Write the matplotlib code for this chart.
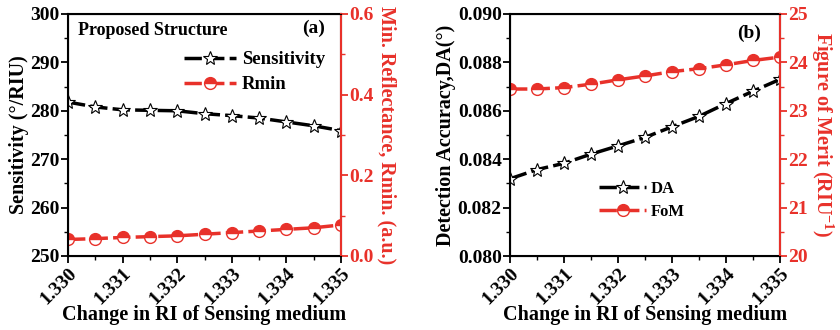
import numpy as np
import matplotlib.pyplot as plt
from matplotlib.ticker import MultipleLocator, FormatStrFormatter

plt.rcParams['font.family'] = ['Liberation Serif', 'DejaVu Serif']
plt.rcParams['font.weight'] = 'bold'
plt.rcParams['axes.labelweight'] = 'bold'
plt.rcParams['mathtext.fontset'] = 'custom'
plt.rcParams['mathtext.rm'] = 'Liberation Serif:bold'
plt.rcParams['mathtext.bf'] = 'Liberation Serif:bold'

ri = [1.3300, 1.3305, 1.3310, 1.3315, 1.3320, 1.3325, 1.3330, 1.3335, 1.3340, 1.3345, 1.3350]
sens = [281.8, 280.8, 280.2, 280.1, 280.0, 279.4, 279.0, 278.5, 277.7, 276.9, 275.9]
rmin = [0.041, 0.043, 0.046, 0.048, 0.050, 0.054, 0.058, 0.062, 0.066, 0.070, 0.077]
da = [0.08319, 0.08357, 0.08383, 0.08421, 0.08455, 0.08490, 0.08534, 0.08577, 0.08630, 0.08681, 0.08730]
fom = [23.45, 23.45, 23.48, 23.55, 23.64, 23.72, 23.81, 23.87, 23.95, 24.04, 24.11]
xticks = [1.330, 1.331, 1.332, 1.333, 1.334, 1.335]

red = '#e8312a'
tfs = 14   # tick labels
lfs = 14.5   # axis labels

fig = plt.figure(figsize=(8.4, 3.3), dpi=100)
axA = fig.add_axes([68/840, 1-256/330, 273/840, 242/330])
axB = fig.add_axes([510/840, 1-256/330, 270/840, 242/330])

def style(ax, ax2):
    ax.set_xlim(1.330, 1.335)
    ax.set_xticks(xticks)
    ax.set_xticklabels(['%.3f' % v for v in xticks], rotation=45, ha='right', rotation_mode='anchor')
    ax.xaxis.set_minor_locator(MultipleLocator(0.0005))
    ax.tick_params(axis='both', which='major', direction='out', length=5, width=1.3, labelsize=tfs)
    ax.tick_params(axis='both', which='minor', direction='out', length=3, width=1.0)
    ax.tick_params(axis='x', pad=1)
    ax.tick_params(axis='y', pad=1)
    for s in ax.spines.values():
        s.set_linewidth(1.5)
    ax2.spines['right'].set_color(red)
    ax2.spines['right'].set_linewidth(1.5)
    ax2.tick_params(axis='y', which='major', direction='out', length=5, width=1.3, colors=red,
                    labelsize=tfs, pad=1)
    ax2.tick_params(axis='y', which='minor', direction='out', length=3, width=1.0, colors=red)
    ax.set_xlabel('Change in RI of Sensing medium', fontsize=lfs, labelpad=-2)

# panel (a)
axA2 = axA.twinx()
l1, = axA.plot(ri, sens, color='black', lw=2.5, ls=(0, (5, 1.5)), marker='*', ms=10,
               mfc='white', mec='black', mew=0.8, label='Sensitivity')
l2, = axA2.plot(ri, rmin, color=red, lw=2.5, ls=(0, (5, 1.5)), marker='o', ms=8.5,
                fillstyle='top', mfc=red, mfcalt='white', mec=red, mew=1.0, label='Rmin')
axA.set_ylim(250, 300)
axA.yaxis.set_major_locator(MultipleLocator(10))
axA.yaxis.set_minor_locator(MultipleLocator(5))
axA2.set_ylim(0, 0.6)
axA2.yaxis.set_major_locator(MultipleLocator(0.2))
axA2.yaxis.set_minor_locator(MultipleLocator(0.1))
axA2.yaxis.set_major_formatter(FormatStrFormatter('%.1f'))
style(axA, axA2)
axA.set_ylabel('Sensitivity (°/RIU)', fontsize=lfs, labelpad=1)
axA2.set_ylabel('Min. Reflectance, Rmin. (a.u.)', fontsize=lfs, color=red, rotation=270, labelpad=16)
axA.legend([l1, l2], ['Sensitivity', 'Rmin'], loc='upper right', bbox_to_anchor=(0.99, 0.90),
           frameon=False, fontsize=13.5, handlelength=2.8, handletextpad=0.3, labelspacing=0.4,
           borderpad=0.2)
axA.text(0.035, 0.965, 'Proposed Structure', transform=axA.transAxes, fontsize=13, fontweight='bold', va='top')
axA.text(0.94, 0.975, '(a)', transform=axA.transAxes, fontsize=14, fontweight='bold', va='top', ha='right')

# panel (b)
axB2 = axB.twinx()
l3, = axB.plot(ri, da, color='black', lw=2.5, ls=(0, (5, 1.5)), marker='*', ms=10,
               mfc='white', mec='black', mew=0.8, label='DA')
l4, = axB2.plot(ri, fom, color=red, lw=2.5, ls=(0, (5, 1.5)), marker='o', ms=8.5,
                fillstyle='top', mfc=red, mfcalt='white', mec=red, mew=1.0, label='FoM')
axB.set_ylim(0.080, 0.090)
axB.yaxis.set_major_locator(MultipleLocator(0.002))
axB.yaxis.set_minor_locator(MultipleLocator(0.001))
axB.yaxis.set_major_formatter(FormatStrFormatter('%.3f'))
axB2.set_ylim(20, 25)
axB2.yaxis.set_major_locator(MultipleLocator(1))
axB2.yaxis.set_minor_locator(MultipleLocator(0.5))
style(axB, axB2)
axB.set_ylabel('Detection Accuracy,DA(°)', fontsize=lfs, labelpad=1)
axB2.set_ylabel('Figure of Merit (RIU$^{-1}$)', fontsize=lfs, color=red, rotation=270, labelpad=20)
axB.legend([l3, l4], ['DA', 'FoM'], loc='center', bbox_to_anchor=(0.49, 0.23),
           frameon=False, fontsize=12, handlelength=2.8, handletextpad=0.3, labelspacing=0.4)
axB.text(0.93, 0.955, '(b)', transform=axB.transAxes, fontsize=14, fontweight='bold', va='top', ha='right')

fig.savefig('out.png', dpi=100)
